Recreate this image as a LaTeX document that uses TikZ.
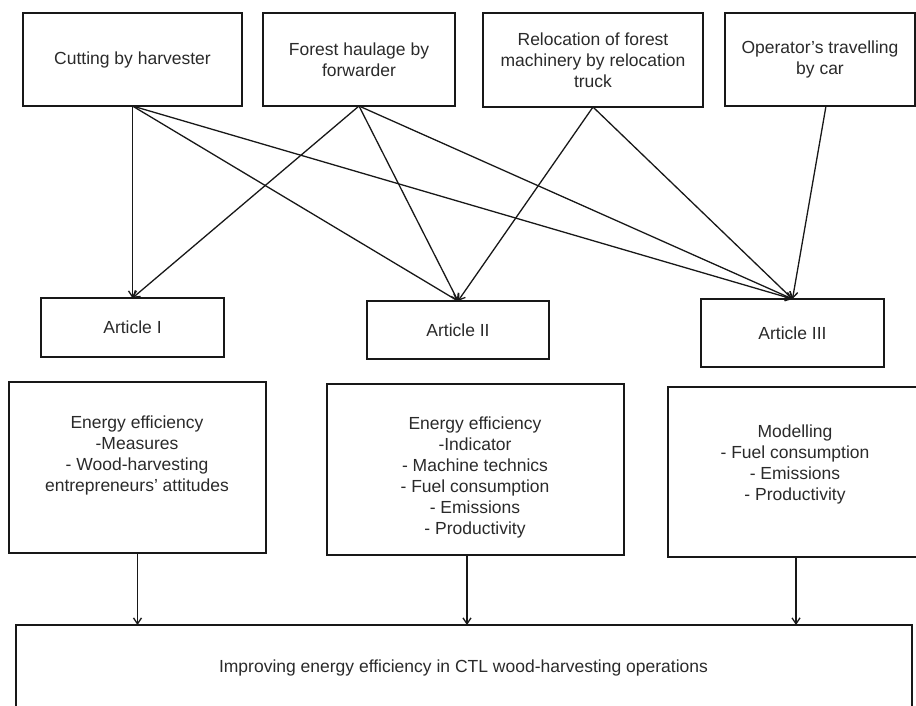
\documentclass[tikz,border=0pt]{standalone}
\usepackage{fontspec}
\setmainfont{Liberation Sans}
\usetikzlibrary{arrows.meta,calc}
\definecolor{ink}{HTML}{181818}
\definecolor{txt}{HTML}{2A2A2A}
\begin{document}
\begin{tikzpicture}[x=1pt,y=-1pt,
  box/.style={draw=ink, line width=2.8pt, outer sep=0pt, inner sep=0pt, align=center, text=txt, font=\fontsize{17.5}{21}\selectfont},
  lbl/.style={align=center, text=txt, inner sep=0pt, font=\fontsize{17.5}{21}\selectfont},
  arr/.style={draw=ink, line width=1.3pt, -{Straight Barb[length=6pt,width=8pt]}}]
\useasboundingbox (0,0) rectangle (916,705);

% top boxes
\node[box, minimum width=219pt, minimum height=93pt] (t1) at (132.5,59.5) {Cutting by harvester};
\node[box, minimum width=192pt, minimum height=93pt] (t2) at (359,59.5) {Forest haulage by\\forwarder};
\node[box, minimum width=220pt, minimum height=94pt] (t3) at (593,60) {Relocation of forest\\machinery by relocation\\truck};
\node[box, minimum width=190pt, minimum height=93pt] (t4) at (820,59.5) {Operator's travelling\\by car};

% article boxes
\node[box, minimum width=183pt, minimum height=59pt] (a1) at (132.5,327.5) {Article I};
\node[box, minimum width=182pt, minimum height=58pt] (a2) at (458,330) {Article II};
\node[box, minimum width=183pt, minimum height=68pt] (a3) at (792.5,333) {Article III};

% lower boxes
\node[box, minimum width=257pt, minimum height=171pt] (l1) at (137.5,467.5) {};
\node[lbl] (l1t) at (137,455) {Energy efficiency\\-Measures\\- Wood-harvesting\\entrepreneurs' attitudes};
\node[box, minimum width=297pt, minimum height=171pt] (l2) at (475.5,469.5) {};
\node[lbl] (l2t) at (475,477.5) {Energy efficiency\\-Indicator\\- Machine technics\\- Fuel consumption\\- Emissions\\- Productivity};
\node[box, minimum width=262pt, minimum height=170pt] (l3) at (799,472) {};
\node[lbl] (l3t) at (795,464) {Modelling\\- Fuel consumption\\- Emissions\\- Productivity};

% bottom box
\node[box, minimum width=896pt, minimum height=105pt] (bot) at (464,677.5) {};
\node[lbl] (bott) at (463.5,668) {Improving energy efficiency in CTL wood-harvesting operations};

% connectors top -> articles
\draw[arr] (t1.south) -- (a1.north);
\draw[arr] (t1.south) -- (a2.north);
\draw[arr] (t1.south) -- (a3.north);
\draw[arr] (t2.south) -- (a1.north);
\draw[arr] (t2.south) -- (a2.north);
\draw[arr] (t2.south) -- (a3.north);
\draw[arr] (t3.south) -- (a2.north);
\draw[arr] (t3.south) -- (a3.north);
\draw[arr] ([xshift=6pt]t4.south) -- (a3.north);

% lower boxes -> bottom
\draw[arr] (l1.south) -- (l1.south |- bot.north);
\draw[arr] ([xshift=-8.5pt]l2.south) -- ([xshift=-8.5pt]l2.south |- bot.north);
\draw[arr] ([xshift=-3pt]l3.south) -- ([xshift=-3pt]l3.south |- bot.north);
\end{tikzpicture}
\end{document}
